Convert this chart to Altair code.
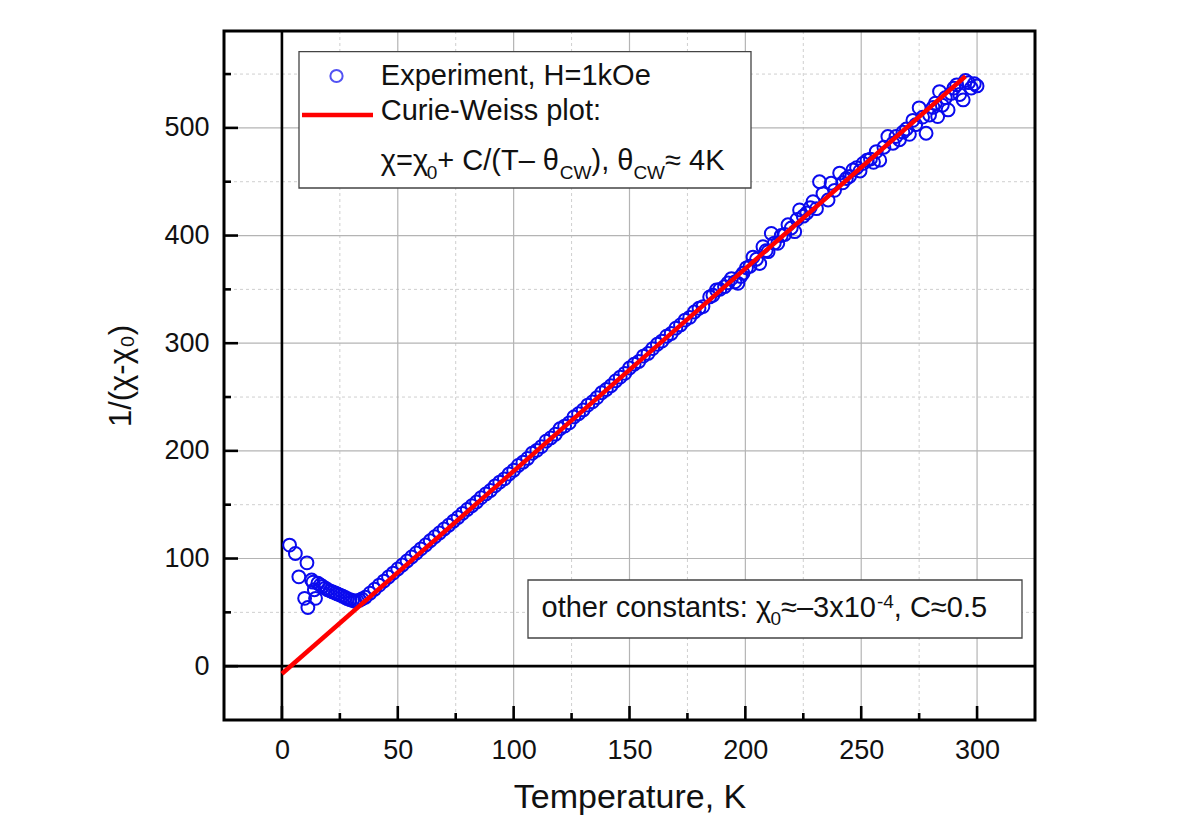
import altair as alt
import pandas as pd

FONT = "Liberation Sans"

# ---- data ----
T_EXP = [3.3, 5.8, 7.3, 9.8, 10.8, 11.2, 12.8, 13.4, 14.0, 14.5, 15.5, 16.6, 17.6, 18.7, 19.7,
         20.8, 21.9, 23.0, 24.0, 25.1, 26.2, 27.3, 28.3, 29.4, 30.5, 31.5, 32.5, 33.5, 34.5,
         36, 38, 40, 42, 44, 46, 48, 50, 52, 54, 56, 58, 60, 62, 64, 66, 68, 70, 72, 74, 76,
         78, 80, 82, 84, 86, 88, 90, 92, 94, 96, 98, 100, 102, 104, 106, 108, 110, 112, 114,
         116, 118, 120, 122, 124, 126, 128, 130, 132, 134, 136, 138, 140, 142, 144, 146, 148,
         150, 152, 154, 156, 158, 160, 162, 164, 166, 168, 170, 172, 174, 176, 178, 180,
         181.7, 184.6, 186, 187.5, 189, 191, 192.5, 194, 195.5, 196.8, 198, 199, 200.5, 202,
         203.3, 204.8, 206.2, 207.6, 209, 209.8, 211.2, 212.5, 214, 215.5, 217, 218.4, 219.8,
         221.3, 222.3, 223.4, 225, 226.5, 228, 229.2, 230.7, 232, 233.5, 235.7, 237, 238.5,
         240.7, 242, 243.6, 245, 246.4, 248, 249.5, 250.8, 252.5, 254, 255.3, 256.5, 258,
         259.8, 261.5, 263.7, 265, 266.5, 268, 269.5, 270.8, 272.3, 273.5, 275, 276.5, 278,
         279.5, 281, 282, 283, 283.8, 285, 286.3, 287.5, 288.8, 290, 291.2, 292.5, 294, 295,
         296.3, 297.5, 298.8, 300]
Y_EXP = [112.5, 104.7, 83, 63, 96, 54.5, 80, 78, 71, 63, 77, 75.5, 74, 72.5, 71,
         70, 69, 68, 67, 66, 65, 63.8, 62.7, 61.8, 61, 60.3, 60.5, 61.3, 62.5,
         64.0, 67.8, 71.5, 75.3, 79.0, 82.8, 86.5, 90.3, 94.0, 97.8, 101.5, 105.2, 109.0,
         112.6, 116.5, 120.3, 123.8, 127.5, 131.0, 134.6, 138.2, 142.0, 145.6, 149.0, 152.5,
         156.6, 160.0, 163.2, 167.5, 171.0, 174.0, 178.5, 182.0, 186.5, 189.5, 193.0, 197.8,
         200.5, 204.0, 209.0, 212.0, 215.5, 220.5, 223.0, 226.0, 231.5, 234.5, 238.0, 242.5,
         245.5, 249.5, 254.0, 257.0, 260.5, 265.0, 268.5, 272.0, 277.0, 280.5, 283.0, 288.0,
         290.5, 295.0, 299.0, 302.0, 306.5, 309.0, 314.0, 317.0, 321.5, 324.0, 329.0, 332.5,
         334, 343, 344.5, 349.4, 350, 352.5, 356, 360, 357, 355.6, 362, 365, 370, 371.5,
         380, 378, 374, 389.7, 386, 385, 402, 393, 392.8, 400, 401, 410, 407,
         403.6, 415, 423.8, 418, 421, 426, 431.5, 425, 450, 439, 433, 448.6, 442,
         458, 449, 453, 455, 461, 463, 460, 467, 470, 471, 468, 478, 470,
         482, 492, 485.7, 492, 489, 496, 499, 494, 507, 503, 518.6, 510, 495,
         512, 519, 523, 510.5, 533.7, 521, 528, 516.7, 532, 537, 540, 531, 526, 544,
         542, 537, 541, 539]

T_FIT = [0, 295]
Y_FIT = [-7, 548]

X_TICK_LABELS = [0, 50, 100, 150, 200, 250, 300]
Y_TICK_LABELS = [0, 100, 200, 300, 400, 500]
X_MINOR = [25, 75, 125, 175, 225, 275]
Y_MINOR = [50, 150, 250, 350, 450, 550]
X_GRID_MAJOR = [50, 100, 150, 200, 250, 300]
Y_GRID_MAJOR = [100, 200, 300, 400, 500]

W, H = 811, 689

xs = alt.Scale(domain=[-25, 325], nice=False, zero=False)
ys = alt.Scale(domain=[-50, 590], nice=False, zero=False)

x_axis = alt.Axis(values=X_TICK_LABELS, ticks=False, tickSize=0, domain=False, grid=False,
                  labelFontSize=27, labelFont=FONT, labelColor="#111111", labelPadding=38,
                  labelBaseline="alphabetic", labelFlush=False,
                  title="Temperature, K", titleFontSize=34, titleFont=FONT,
                  titleFontWeight="normal", titleColor="#111111", titleBaseline="alphabetic",
                  titleX=W / 2, titleY=87, titleAlign="center")
y_axis = alt.Axis(values=Y_TICK_LABELS, ticks=False, tickSize=0, domain=False, grid=False,
                  labelFontSize=27, labelFont=FONT, labelColor="#111111", labelPadding=15,
                  labelBaseline="middle", labelFlush=False,
                  title="1/(χ-χ₀)", titleFontSize=31, titleFont=FONT, titleFontWeight="normal",
                  titleColor="#111111", titleAngle=270, titleBaseline="alphabetic",
                  titleAlign="center", titleX=-94, titleY=344.5)

exp_df = pd.DataFrame({"T": T_EXP, "inv": Y_EXP})
fit_df = pd.DataFrame({"T": T_FIT, "inv": Y_FIT})


def xenc(field):
    return alt.X(field, type="quantitative", scale=xs, axis=x_axis)


def yenc(field):
    return alt.Y(field, type="quantitative", scale=ys, axis=y_axis)


one = pd.DataFrame({"a": [0]})

grid_x_major = alt.Chart(pd.DataFrame({"v": X_GRID_MAJOR})).mark_rule(
    color="#b4b4b4", strokeWidth=1.2).encode(x=xenc("v"))
grid_x_minor = alt.Chart(pd.DataFrame({"v": X_MINOR})).mark_rule(
    color="#cfcfcf", strokeWidth=1, strokeDash=[3, 3]).encode(x=xenc("v"))
grid_y_major = alt.Chart(pd.DataFrame({"v": Y_GRID_MAJOR})).mark_rule(
    color="#b4b4b4", strokeWidth=1.2).encode(y=yenc("v"))
grid_y_minor = alt.Chart(pd.DataFrame({"v": Y_MINOR})).mark_rule(
    color="#cfcfcf", strokeWidth=1, strokeDash=[3, 3]).encode(y=yenc("v"))

zero_x = alt.Chart(pd.DataFrame({"v": [0]})).mark_rule(color="black", strokeWidth=2.6).encode(x=xenc("v"))
zero_y = alt.Chart(pd.DataFrame({"v": [0]})).mark_rule(color="black", strokeWidth=2.6).encode(y=yenc("v"))

points = alt.Chart(exp_df).mark_point(shape="circle", filled=False, size=165, strokeWidth=2,
                                      color="#0a0aee", opacity=1).encode(x=xenc("T"), y=yenc("inv"))
fit = alt.Chart(fit_df).mark_line(color="#ff0000", strokeWidth=4.5).encode(x=xenc("T"), y=yenc("inv"))

xt_major = alt.Chart(pd.DataFrame({"v": X_TICK_LABELS})).mark_rule(color="black", strokeWidth=2.6).encode(
    x=xenc("v"), y=alt.value(H), y2=alt.value(H - 14))
xt_minor = alt.Chart(pd.DataFrame({"v": X_MINOR})).mark_rule(color="black", strokeWidth=2.6).encode(
    x=xenc("v"), y=alt.value(H), y2=alt.value(H - 7))
yt_major = alt.Chart(pd.DataFrame({"v": Y_TICK_LABELS})).mark_rule(color="black", strokeWidth=2.6).encode(
    y=yenc("v"), x=alt.value(0), x2=alt.value(14))
yt_minor = alt.Chart(pd.DataFrame({"v": Y_MINOR})).mark_rule(color="black", strokeWidth=2.6).encode(
    y=yenc("v"), x=alt.value(0), x2=alt.value(7))


def box(x1, x2, y1, y2):
    return alt.Chart(one).mark_rect(fill="white", stroke="#444444", strokeWidth=1.3).encode(
        x=alt.value(x1), x2=alt.value(x2), y=alt.value(y1), y2=alt.value(y2))


def txt(s, x, y, size=29):
    return alt.Chart(one).mark_text(text=s, align="left", baseline="alphabetic", fontSize=size,
                                    font=FONT, color="#111111").encode(x=alt.value(x), y=alt.value(y))


legend_layers = [
    box(75, 527, 20.7, 157),
    alt.Chart(one).mark_point(shape="circle", filled=False, size=150, strokeWidth=2,
                              color="#0a0aee").encode(x=alt.value(112.5), y=alt.value(45)),
    alt.Chart(one).mark_rule(color="#ff0000", strokeWidth=4.5).encode(
        x=alt.value(78), x2=alt.value(149), y=alt.value(84)),
    txt("Experiment, H=1kOe", 156.8, 54),
    txt("Curie-Weiss plot:", 156.8, 88.5),
    txt("χ=χ", 156.8, 139),
    txt("0", 202.7, 148, 19),
    txt("+ C/(T– θ", 213.3, 139),
    txt("CW", 335.8, 148, 19),
    txt("), θ", 367.5, 139),
    txt("CW", 409.4, 148, 19),
    txt("≈ 4K", 441.1, 139),
]

const_layers = [
    box(304, 798, 549, 607),
    txt("other constants: χ", 317.5, 586),
    txt("0", 546.4, 594, 19),
    txt("≈–3x10", 557, 586),
    txt("-4", 652.9, 577, 19),
    txt(", C≈0.5", 669.8, 586),
]

frame = alt.Chart(one).mark_rect(fill="white", fillOpacity=0, stroke="black", strokeWidth=3).encode(
    x=alt.value(0), x2=alt.value(W), y=alt.value(0), y2=alt.value(H))

chart = alt.layer(
    grid_x_minor, grid_y_minor, grid_x_major, grid_y_major, zero_x, zero_y,
    points, fit, xt_major, xt_minor, yt_major, yt_minor,
    *legend_layers, *const_layers, frame
).properties(
    width=W, height=H,
    autosize=alt.AutoSizeParams(type="none"),
    padding={"left": 216, "top": 23, "right": 20, "bottom": 98},
    background="white",
).configure_view(stroke=None)

chart.save("out.html", embed_options={"renderer": "svg", "actions": False})
